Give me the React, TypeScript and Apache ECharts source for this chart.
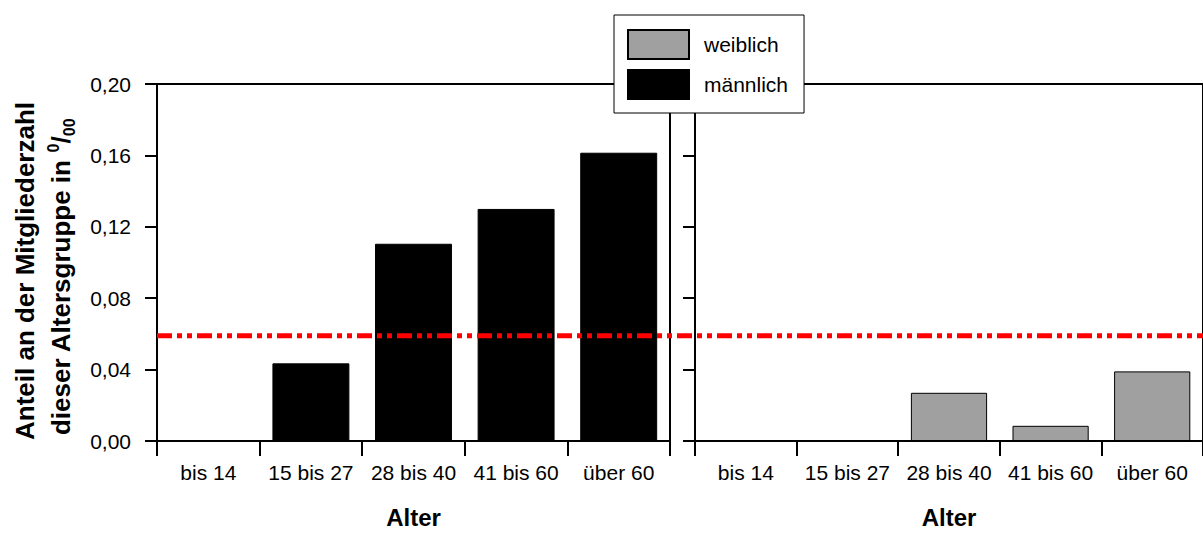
import React, { useEffect, useRef } from "react";
import * as echarts from "echarts";

const categories = ["bis 14", "15 bis 27", "28 bis 40", "41 bis 60", "über 60"];
const maleValues = [0, 0.0435, 0.1105, 0.13, 0.1615];
const femaleValues = [0, 0, 0.027, 0.0085, 0.039];
const referenceValue = 0.059;
const yMin = 0;
const yMax = 0.2;
const yInterval = 0.04;
const seriesNames = ["weiblich", "männlich"];
const yTitleLine1 = "Anteil an der Mitgliederzahl";
const yTitleLine2 = "dieser Altersgruppe in ";
const xTitle = "Alter";

const FONT = "Liberation Sans, Arial, sans-serif";

export default function App() {
  const ref = useRef<HTMLDivElement>(null);

  useEffect(() => {
    if (!ref.current) return;
    const chart = echarts.init(ref.current, undefined, { renderer: "svg" });

    const grids = [
      { left: 157, top: 84, width: 513, height: 363 },
      { left: 695, top: 84, width: 515, height: 363 },
    ];

    const xAxisBase = (gridIndex: number) => ({
      type: "category" as const,
      gridIndex,
      data: categories,
      boundaryGap: true,
      axisLine: { show: true, lineStyle: { color: "#000", width: 2 } },
      axisTick: { show: true, length: 15, lineStyle: { color: "#000", width: 2 } },
      axisLabel: { color: "#000", fontSize: 21, fontFamily: FONT, margin: 21, interval: 0 },
      splitLine: { show: false },
      name: xTitle,
      nameLocation: "middle" as const,
      nameGap: 64,
      nameTextStyle: { color: "#000", fontSize: 24, fontWeight: "bold" as const, fontFamily: FONT },
    });

    const yAxisBase = (gridIndex: number, showLabel: boolean) => ({
      type: "value" as const,
      gridIndex,
      min: yMin,
      max: yMax,
      interval: yInterval,
      axisLine: { show: true, lineStyle: { color: "#000", width: 2 } },
      axisTick: { show: true, length: 12, lineStyle: { color: "#000", width: 2 } },
      axisLabel: {
        show: showLabel,
        color: "#000",
        fontSize: 21,
        fontFamily: FONT,
        margin: 26,
        formatter: (v: number) => v.toFixed(2).replace(".", ","),
      },
      splitLine: { show: false },
    });

    chart.setOption({
      animation: false,
      backgroundColor: "#fff",
      grid: grids.map((g) => ({
        ...g,
        show: true,
        borderColor: "#000",
        borderWidth: 2,
        backgroundColor: "transparent",
      })),
      xAxis: [xAxisBase(0), xAxisBase(1)],
      yAxis: [yAxisBase(0, true), yAxisBase(1, false)],
      legend: {
        data: seriesNames,
        orient: "vertical",
        left: 614,
        top: 15,
        itemWidth: 61,
        itemHeight: 29,
        itemGap: 9,
        padding: [14, 16, 13, 13],
        backgroundColor: "#fff",
        borderColor: "#000",
        borderWidth: 1,
        borderRadius: 0,
        selectedMode: false,
        icon: "rect",
        textStyle: {
          color: "#000",
          fontSize: 21,
          fontFamily: FONT,
          padding: [0, 0, 0, 10],
        },
        z: 20,
      },
      series: [
        {
          name: seriesNames[0],
          type: "bar",
          xAxisIndex: 1,
          yAxisIndex: 1,
          data: femaleValues,
          barWidth: "75%",
          itemStyle: { color: "#a0a0a0", borderColor: "#000", borderWidth: 1 },
        },
        {
          name: seriesNames[1],
          type: "bar",
          xAxisIndex: 0,
          yAxisIndex: 0,
          data: maleValues,
          barWidth: "75%",
          itemStyle: { color: "#000", borderColor: "#000", borderWidth: 1 },
        },
      ],
    });

    const refY = chart.convertToPixel({ yAxisIndex: 0 }, referenceValue) as number;

    chart.setOption({
      graphic: [
        {
          type: "line",
          z: 10,
          shape: { x1: 157, y1: refY, x2: 1210, y2: refY },
          style: { stroke: "#ff0000", lineWidth: 5, lineDash: [15, 5, 5, 5, 5, 5], lineCap: "butt" },
        },
        {
          type: "text",
          x: 25,
          y: 271,
          rotation: Math.PI / 2,
          style: {
            text: yTitleLine1,
            fontSize: 26,
            fontWeight: "bold",
            fontFamily: FONT,
            fill: "#000",
            align: "center",
            verticalAlign: "middle",
          },
        },
        {
          type: "text",
          x: 61,
          y: 277,
          rotation: Math.PI / 2,
          style: {
            text: yTitleLine2 + "{sup|0}{sl|/}{sub|00}",
            fontSize: 26,
            fontWeight: "bold",
            fontFamily: FONT,
            fill: "#000",
            align: "center",
            verticalAlign: "middle",
            rich: {
              sup: { fontSize: 16, fontWeight: "bold", fontFamily: FONT, fill: "#000", verticalAlign: "top", lineHeight: 32 },
              sl: { fontSize: 26, fontWeight: "bold", fontFamily: FONT, fill: "#000", lineHeight: 32 },
              sub: { fontSize: 16, fontWeight: "bold", fontFamily: FONT, fill: "#000", verticalAlign: "bottom", lineHeight: 32 },
            },
          },
        },
      ],
    });

    return () => chart.dispose();
  }, []);

  return (
    <div
      ref={ref}
      style={{ position: "fixed", left: 0, top: 0, width: 1203, height: 534, overflow: "hidden", background: "#fff" }}
    />
  );
}
